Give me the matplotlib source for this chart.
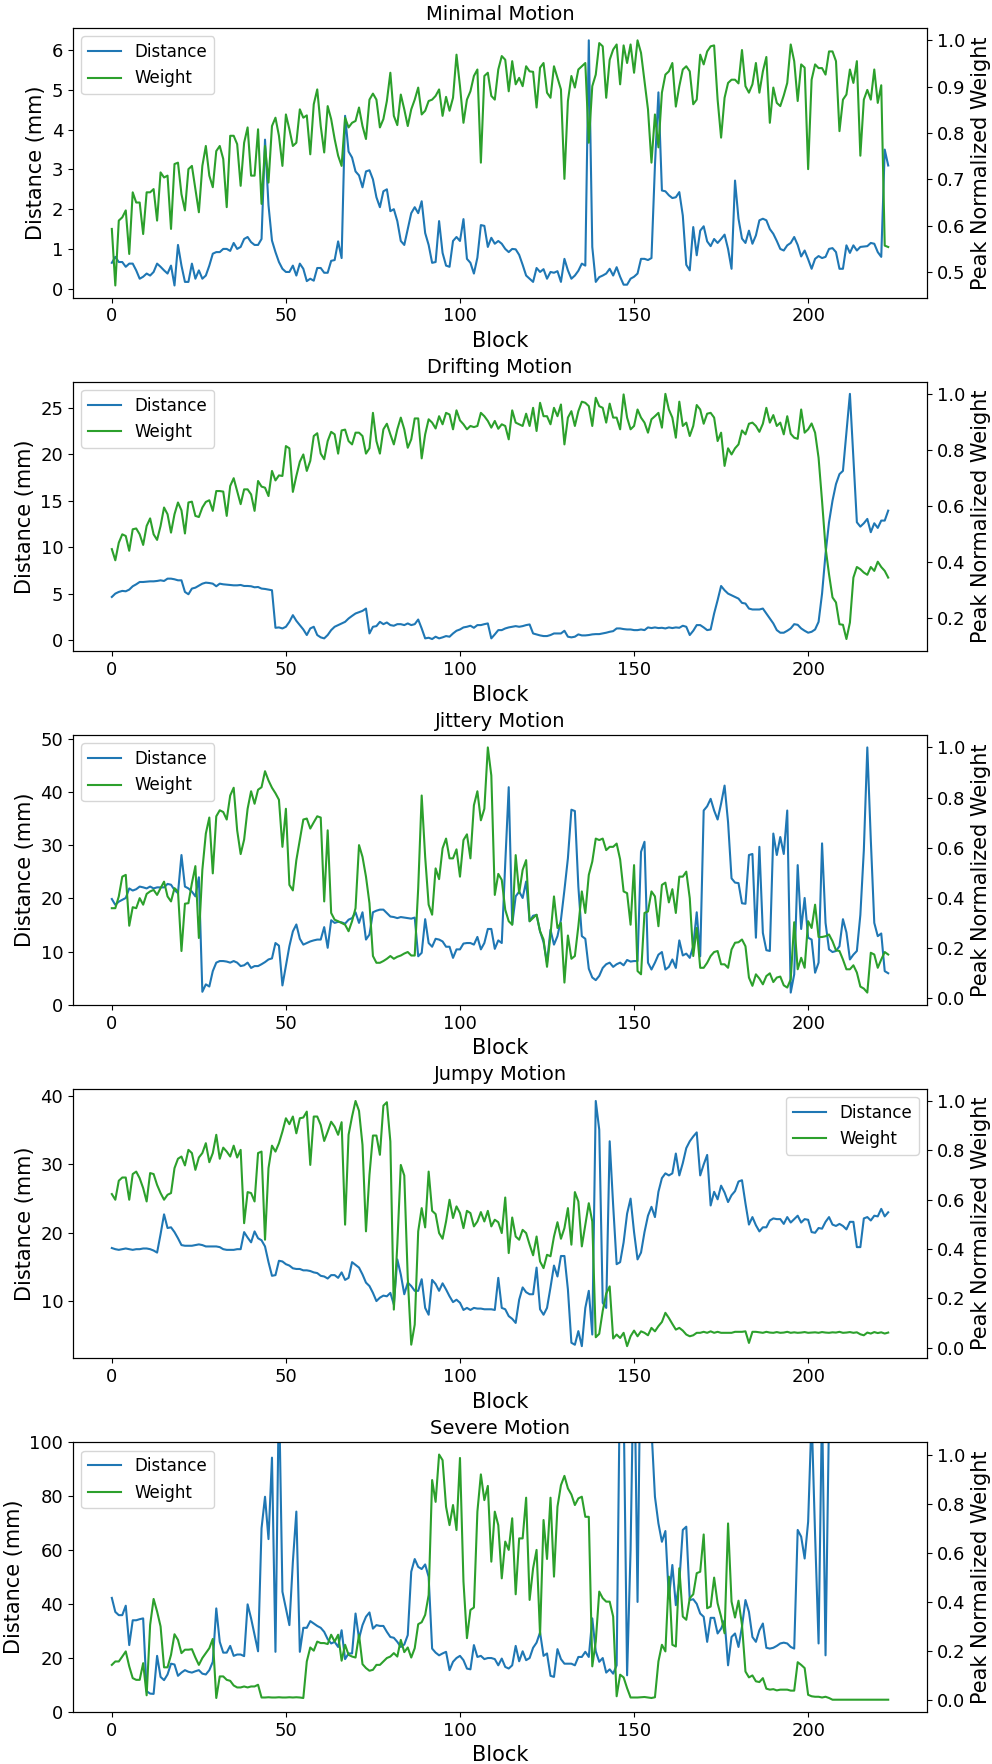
import matplotlib
matplotlib.use("Agg")
import matplotlib.pyplot as plt
import numpy as np

titles = ["Minimal Motion", "Drifting Motion", "Jittery Motion", "Jumpy Motion", "Severe Motion"]
legend_locs = ["upper left", "upper left", "upper left", "upper right", "upper left"]

# ---------------- Minimal Motion ----------------
dist_minimal = [
    0.65, 0.8, 0.67, 0.67, 0.55, 0.63, 0.63, 0.46, 0.25, 0.3,
    0.38, 0.33, 0.42, 0.63, 0.55, 0.46, 0.38, 0.58, 0.08, 1.1,
    0.58, 0.17, 0.17, 0.63, 0.25, 0.46, 0.25, 0.33, 0.58, 0.88,
    0.92, 0.92, 1.0, 1.0, 0.95, 1.15, 1.0, 1.05, 1.25, 1.3,
    1.17, 1.1, 1.1, 1.25, 3.75, 2.1, 1.21, 0.92, 0.67, 0.5,
    0.42, 0.42, 0.58, 0.33, 0.63, 0.5, 0.19, 0.25, 0.2, 0.52,
    0.52, 0.4, 0.4, 0.7, 0.72, 1.19, 0.77, 4.35, 3.45, 3.3,
    2.95, 2.85, 2.55, 2.95, 2.98, 2.75, 2.3, 2.05, 2.45, 2.5,
    1.95, 2.0, 1.7, 1.2, 1.1, 1.5, 1.9, 2.05, 1.9, 2.2,
    1.4, 1.1, 0.65, 0.67, 1.7, 0.9, 0.58, 0.55, 1.2, 1.3,
    1.2, 1.75, 0.75, 0.65, 0.38, 0.78, 1.6, 1.58, 1.05, 1.28,
    1.13, 1.2, 1.13, 1.0, 0.92, 1.0, 0.99, 0.85, 0.6, 0.33,
    0.25, 0.17, 0.52, 0.42, 0.49, 0.25, 0.42, 0.4, 0.44, 0.17,
    0.75, 0.46, 0.25, 0.33, 0.45, 0.63, 0.58, 6.25, 1.05, 0.17,
    0.29, 0.33, 0.38, 0.5, 0.33, 0.54, 0.3, 0.1, 0.1, 0.25,
    0.3, 0.38, 0.75, 0.75, 0.72, 0.77, 3.1, 4.94, 2.47, 2.45,
    2.35, 2.28, 2.3, 2.43, 1.84, 0.6, 0.46, 1.55, 0.84, 1.46,
    1.57, 1.19, 1.07, 1.25, 1.15, 1.25, 1.36, 1.0, 0.5, 2.72,
    1.76, 1.26, 1.15, 1.46, 1.13, 1.34, 1.72, 1.76, 1.72, 1.5,
    1.38, 1.2, 1.0, 0.96, 1.09, 1.15, 1.3, 1.1, 0.81, 0.96,
    0.74, 0.5, 0.75, 0.82, 0.77, 0.8, 1.0, 1.02, 0.92, 0.5,
    0.5, 1.09, 0.9, 1.09, 0.96, 1.05, 1.06, 1.07, 1.15, 1.13,
    0.92, 0.8, 3.5, 3.1,
]
weight_minimal = [
    0.593, 0.471, 0.611, 0.618, 0.633, 0.539, 0.672, 0.650, 0.650, 0.582,
    0.672, 0.672, 0.679, 0.611, 0.715, 0.704, 0.708, 0.593, 0.733, 0.736,
    0.668, 0.633, 0.722, 0.729, 0.679, 0.629, 0.729, 0.772, 0.708, 0.683,
    0.761, 0.772, 0.744, 0.640, 0.794, 0.794, 0.776, 0.686, 0.779, 0.812,
    0.708, 0.708, 0.808, 0.647, 0.772, 0.693, 0.815, 0.833, 0.794, 0.729,
    0.840, 0.808, 0.772, 0.779, 0.851, 0.833, 0.838, 0.754, 0.862, 0.894,
    0.815, 0.758, 0.858, 0.830, 0.787, 0.751, 0.729, 0.833, 0.812, 0.822,
    0.826, 0.855, 0.815, 0.787, 0.872, 0.885, 0.872, 0.812, 0.830, 0.869,
    0.930, 0.837, 0.817, 0.883, 0.851, 0.815, 0.851, 0.872, 0.898, 0.840,
    0.848, 0.869, 0.872, 0.880, 0.894, 0.837, 0.878, 0.848, 0.876, 0.969,
    0.901, 0.822, 0.872, 0.890, 0.923, 0.937, 0.736, 0.923, 0.930, 0.880,
    0.872, 0.937, 0.966, 0.958, 0.890, 0.955, 0.905, 0.919, 0.901, 0.944,
    0.933, 0.932, 0.855, 0.941, 0.951, 0.887, 0.876, 0.944, 0.919, 0.894,
    0.701, 0.869, 0.923, 0.898, 0.937, 0.944, 0.951, 0.779, 0.901, 0.926,
    0.994, 0.987, 0.876, 0.958, 0.980, 0.991, 0.905, 0.989, 0.951, 0.991,
    0.930, 1.0, 0.973, 0.912, 0.851, 0.736, 0.840, 0.769, 0.887, 0.926,
    0.933, 0.951, 0.857, 0.901, 0.937, 0.944, 0.933, 0.862, 0.872, 0.969,
    0.948, 0.976, 0.987, 0.989, 0.872, 0.790, 0.876, 0.908, 0.915, 0.915,
    0.907, 0.979, 0.901, 0.887, 0.905, 0.951, 0.887, 0.933, 0.964, 0.822,
    0.898, 0.865, 0.858, 0.881, 0.908, 0.991, 0.955, 0.869, 0.948, 0.941,
    0.722, 0.915, 0.948, 0.940, 0.940, 0.926, 0.976, 0.976, 0.955, 0.804,
    0.872, 0.883, 0.937, 0.908, 0.955, 0.751, 0.872, 0.893, 0.872, 0.937,
    0.865, 0.903, 0.557, 0.554,
]

# ---------------- Drifting Motion ----------------
dist_drifting = [
    4.64, 5.0, 5.18, 5.29, 5.25, 5.43, 5.79, 6.0, 6.25, 6.25,
    6.29, 6.32, 6.32, 6.36, 6.43, 6.36, 6.61, 6.61, 6.54, 6.43,
    6.43, 5.18, 4.93, 5.54, 5.64, 5.86, 6.07, 6.18, 6.14, 6.07,
    5.79, 6.07, 6.0, 5.96, 5.93, 5.89, 5.89, 5.93, 5.82, 5.82,
    5.79, 5.68, 5.71, 5.54, 5.5, 5.43, 5.36, 1.32, 1.36, 1.25,
    1.43, 1.96, 2.68, 2.07, 1.61, 1.14, 0.54, 1.25, 1.43, 0.54,
    0.29, 0.18, 0.54, 1.07, 1.43, 1.61, 1.79, 1.96, 2.32, 2.6,
    2.86, 3.0, 3.14, 3.39, 0.71, 1.43, 1.5, 1.96, 1.71, 1.89,
    1.61, 1.54, 1.71, 1.71, 1.61, 1.79, 1.61, 1.71, 2.21, 1.25,
    0.18, 0.25, 0.11, 0.36, 0.18, 0.29, 0.43, 0.36, 0.71, 1.0,
    1.14, 1.36, 1.43, 1.54, 1.32, 1.61, 1.61, 1.71, 1.79, 0.18,
    0.61, 1.07, 1.07, 1.25, 1.36, 1.43, 1.5, 1.43, 1.5, 1.61,
    1.68, 0.71, 0.61, 0.5, 0.43, 0.43, 0.54, 0.71, 0.71, 0.71,
    1.0, 0.36, 0.29, 0.36, 0.61, 0.5, 0.5, 0.54, 0.61, 0.64,
    0.64, 0.71, 0.79, 0.89, 0.96, 1.25, 1.25, 1.18, 1.14, 1.14,
    1.07, 1.07, 1.14, 1.07, 1.36, 1.29, 1.36, 1.29, 1.32, 1.25,
    1.36, 1.29, 1.36, 1.32, 1.54, 1.43, 0.54, 1.0, 1.61, 1.61,
    1.36, 1.07, 1.14, 2.86, 4.29, 5.82, 5.36, 5.0, 4.82, 4.64,
    4.46, 4.0, 3.93, 3.39, 3.29, 3.29, 3.29, 3.39, 2.86, 2.32,
    1.79, 1.07, 0.79, 0.79, 1.0, 1.25, 1.71, 1.64, 1.25, 1.0,
    0.79, 0.89, 1.14, 1.96, 5.0, 9.29, 12.68, 15.0, 16.79, 17.86,
    18.21, 22.32, 26.5, 19.64, 12.68, 12.21, 12.57, 13.04, 11.61, 12.57,
    12.07, 12.86, 12.86, 13.93,
]
weight_drifting = [
    0.446, 0.406, 0.469, 0.499, 0.493, 0.440, 0.517, 0.520, 0.499, 0.461,
    0.529, 0.556, 0.499, 0.479, 0.529, 0.595, 0.571, 0.505, 0.571, 0.613,
    0.585, 0.502, 0.613, 0.616, 0.565, 0.561, 0.595, 0.615, 0.621, 0.583,
    0.654, 0.654, 0.652, 0.565, 0.672, 0.700, 0.654, 0.607, 0.660, 0.660,
    0.642, 0.583, 0.690, 0.670, 0.666, 0.636, 0.726, 0.692, 0.710, 0.708,
    0.815, 0.807, 0.651, 0.708, 0.759, 0.785, 0.726, 0.762, 0.851, 0.861,
    0.788, 0.768, 0.833, 0.866, 0.857, 0.788, 0.871, 0.874, 0.833, 0.821,
    0.863, 0.863, 0.851, 0.788, 0.807, 0.934, 0.833, 0.788, 0.875, 0.895,
    0.857, 0.821, 0.875, 0.917, 0.875, 0.809, 0.839, 0.914, 0.914, 0.771,
    0.857, 0.911, 0.899, 0.878, 0.922, 0.893, 0.934, 0.928, 0.875, 0.943,
    0.907, 0.893, 0.875, 0.887, 0.883, 0.887, 0.934, 0.922, 0.905, 0.881,
    0.905, 0.877, 0.893, 0.887, 0.839, 0.943, 0.899, 0.893, 0.887, 0.931,
    0.887, 0.952, 0.869, 0.970, 0.922, 0.922, 0.893, 0.952, 0.922, 0.964,
    0.821, 0.917, 0.940, 0.887, 0.940, 0.974, 0.970, 0.958, 0.887, 0.988,
    0.958, 0.952, 0.899, 0.967, 0.917, 0.917, 0.875, 1.0, 0.917, 0.875,
    0.887, 0.946, 0.917, 0.899, 0.863, 0.911, 0.922, 0.934, 0.881, 1.002,
    0.946, 0.917, 0.845, 0.974, 0.887, 0.899, 0.851, 0.887, 0.962, 0.946,
    0.895, 0.931, 0.934, 0.917, 0.833, 0.863, 0.744, 0.807, 0.785, 0.807,
    0.821, 0.871, 0.857, 0.895, 0.899, 0.887, 0.866, 0.895, 0.952, 0.899,
    0.926, 0.887, 0.899, 0.857, 0.922, 0.859, 0.845, 0.841, 0.946, 0.863,
    0.875, 0.896, 0.863, 0.773, 0.618, 0.452, 0.356, 0.273, 0.255, 0.177,
    0.175, 0.124, 0.183, 0.344, 0.382, 0.374, 0.362, 0.354, 0.382, 0.368,
    0.401, 0.382, 0.368, 0.344,
]

# ---------------- Jittery Motion ----------------
dist_jittery = [
    19.9, 18.8, 19.4, 19.75, 20.1, 21.9, 21.5, 21.75, 22.25, 22.1,
    21.9, 22.25, 21.9, 22.1, 22.1, 22.1, 22.75, 22.6, 21.6, 21.0,
    28.2, 22.25, 21.9, 21.3, 20.4, 24.0, 2.4, 3.8, 3.4, 6.3,
    7.9, 8.2, 8.2, 8.1, 7.9, 8.2, 7.9, 7.25, 7.4, 7.9,
    6.9, 7.25, 7.25, 7.6, 8.0, 8.5, 8.7, 11.6, 11.1, 3.6,
    7.25, 11.0, 13.8, 15.1, 12.4, 11.3, 11.6, 11.9, 12.1, 12.25,
    12.25, 14.6, 10.7, 15.9, 15.4, 15.6, 15.5, 15.25, 16.0, 16.3,
    17.4, 15.4, 17.4, 12.25, 13.2, 17.4, 17.7, 17.9, 17.9, 17.25,
    16.6, 16.5, 16.3, 16.5, 16.4, 16.3, 16.2, 16.4, 9.1, 9.75,
    16.1, 11.6, 10.9, 12.4, 12.25, 11.9, 10.9, 10.9, 8.8, 10.4,
    10.4, 11.5, 11.6, 11.6, 11.3, 12.75, 10.4, 11.6, 14.25, 14.25,
    10.5, 12.1, 11.6, 26.6, 41.0, 15.1, 20.4, 21.3, 20.1, 23.2,
    15.7, 16.75, 16.9, 13.8, 11.75, 7.9, 14.1, 11.3, 12.9, 16.0,
    21.6, 27.6, 36.75, 36.5, 22.25, 12.9, 12.4, 6.75, 5.1, 4.6,
    5.4, 6.9, 7.6, 7.9, 7.1, 7.6, 7.9, 7.4, 8.4, 8.1,
    8.2, 8.2, 28.8, 30.7, 7.9, 6.6, 7.9, 9.4, 9.9, 6.6,
    7.1, 8.5, 6.9, 12.1, 9.25, 9.6, 8.8, 11.0, 17.4, 9.1,
    36.6, 37.4, 38.8, 36.6, 34.9, 37.9, 41.3, 34.4, 23.8, 23.0,
    22.9, 19.1, 19.0, 28.2, 28.4, 12.6, 29.75, 13.5, 10.25, 10.1,
    32.25, 28.2, 31.6, 28.4, 36.6, 2.25, 5.7, 26.3, 14.25, 20.1,
    12.6, 12.25, 6.0, 7.9, 30.4, 15.4, 10.4, 9.9, 10.1, 11.0,
    16.1, 13.6, 8.5, 9.4, 10.1, 16.9, 29.1, 48.5, 31.1, 15.4,
    12.9, 13.4, 6.3, 5.9,
]
weight_jittery = [
    0.358, 0.358, 0.405, 0.484, 0.491, 0.288, 0.362, 0.358, 0.398, 0.372,
    0.415, 0.425, 0.431, 0.411, 0.438, 0.464, 0.405, 0.385, 0.438, 0.425,
    0.187, 0.376, 0.378, 0.458, 0.526, 0.239, 0.511, 0.656, 0.720, 0.497,
    0.725, 0.749, 0.742, 0.712, 0.808, 0.839, 0.669, 0.574, 0.632, 0.755,
    0.825, 0.775, 0.831, 0.841, 0.905, 0.868, 0.839, 0.817, 0.791, 0.603,
    0.755, 0.451, 0.429, 0.550, 0.630, 0.712, 0.716, 0.676, 0.701, 0.725,
    0.720, 0.385, 0.669, 0.339, 0.312, 0.306, 0.299, 0.292, 0.266, 0.306,
    0.358, 0.610, 0.563, 0.484, 0.378, 0.167, 0.140, 0.140, 0.147, 0.156,
    0.167, 0.156, 0.164, 0.169, 0.177, 0.183, 0.169, 0.169, 0.438, 0.808,
    0.563, 0.372, 0.332, 0.517, 0.474, 0.597, 0.636, 0.557, 0.557, 0.593,
    0.484, 0.630, 0.653, 0.557, 0.769, 0.825, 0.709, 0.755, 1.0, 0.888,
    0.411, 0.495, 0.471, 0.352, 0.306, 0.292, 0.570, 0.418, 0.511, 0.550,
    0.306, 0.319, 0.332, 0.266, 0.233, 0.124, 0.253, 0.405, 0.279, 0.299,
    0.061, 0.249, 0.156, 0.167, 0.286, 0.425, 0.339, 0.491, 0.544, 0.636,
    0.630, 0.636, 0.590, 0.603, 0.603, 0.616, 0.553, 0.425, 0.418, 0.292,
    0.530, 0.107, 0.094, 0.339, 0.345, 0.425, 0.405, 0.286, 0.451, 0.460,
    0.381, 0.434, 0.339, 0.484, 0.484, 0.504, 0.398, 0.167, 0.279, 0.120,
    0.120, 0.140, 0.167, 0.183, 0.187, 0.134, 0.134, 0.120, 0.193, 0.220,
    0.222, 0.233, 0.206, 0.081, 0.048, 0.094, 0.077, 0.054, 0.087, 0.098,
    0.063, 0.081, 0.085, 0.050, 0.041, 0.074, 0.302, 0.114, 0.160, 0.120,
    0.306, 0.279, 0.372, 0.243, 0.243, 0.246, 0.253, 0.226, 0.190, 0.187,
    0.153, 0.114, 0.114, 0.130, 0.101, 0.045, 0.037, 0.021, 0.180, 0.173,
    0.120, 0.153, 0.183, 0.173,
]

# ---------------- Jumpy Motion ----------------
dist_jumpy = [
    17.77, 17.6, 17.5, 17.6, 17.7, 17.6, 17.5, 17.6, 17.6, 17.7,
    17.7, 17.6, 17.4, 17.1, 19.8, 22.7, 20.7, 20.8, 20.1, 19.2,
    18.2, 18.1, 18.1, 18.1, 18.2, 18.3, 18.2, 18.0, 18.0, 18.0,
    18.0, 17.9, 17.6, 17.5, 17.5, 17.5, 17.6, 17.6, 20.1, 19.3,
    18.6, 20.2, 19.2, 18.9, 18.0, 15.7, 13.7, 13.8, 15.9, 15.8,
    15.4, 15.2, 14.8, 14.7, 14.7, 14.5, 14.5, 14.4, 14.2, 14.1,
    13.7, 13.6, 13.3, 13.8, 13.8, 13.4, 14.2, 13.1, 13.4, 15.7,
    15.3, 14.9, 13.9, 12.7, 12.2, 11.2, 10.0, 10.5, 10.8, 10.7,
    11.2, 9.5, 16.1, 13.9, 11.0, 12.7, 12.2, 11.5, 11.5, 13.2,
    9.0, 8.0, 13.1, 12.5, 11.5, 12.6, 11.7, 10.7, 9.85, 10.2,
    9.75, 8.7, 9.0, 8.7, 9.0, 8.9, 8.9, 8.8, 8.8, 8.8,
    8.7, 13.4, 9.0, 8.8, 7.8, 7.4, 6.8, 10.2, 12.0, 11.3,
    11.0, 11.0, 14.9, 8.8, 8.0, 9.0, 12.0, 15.2, 13.6, 16.6,
    16.6, 11.7, 3.9, 3.6, 5.6, 3.4, 9.0, 11.5, 5.1, 39.3,
    35.1, 9.75, 9.0, 33.4, 24.0, 15.4, 15.7, 18.6, 22.8, 25.0,
    20.1, 16.1, 17.1, 20.1, 22.5, 23.8, 22.3, 26.0, 28.0, 28.7,
    28.4, 28.7, 31.6, 28.4, 30.2, 32.4, 33.4, 34.1, 34.7, 28.4,
    30.0, 31.4, 24.0, 26.0, 24.9, 26.9, 25.9, 24.5, 25.5, 26.1,
    27.5, 27.7, 24.3, 21.2, 22.3, 21.1, 20.2, 20.8, 20.8, 21.8,
    22.1, 22.0, 22.0, 21.3, 22.3, 21.5, 22.0, 22.5, 21.5, 22.0,
    21.9, 20.1, 20.0, 20.7, 20.6, 21.6, 22.3, 21.2, 21.0, 21.3,
    21.0, 20.5, 21.6, 21.6, 17.9, 17.9, 22.1, 22.3, 21.8, 22.5,
    22.4, 23.5, 22.4, 23.0,
]
weight_jumpy = [
    0.623, 0.600, 0.677, 0.690, 0.690, 0.600, 0.704, 0.714, 0.687, 0.647,
    0.593, 0.708, 0.704, 0.660, 0.627, 0.600, 0.620, 0.627, 0.728, 0.766,
    0.775, 0.739, 0.802, 0.789, 0.721, 0.771, 0.789, 0.829, 0.752, 0.789,
    0.863, 0.766, 0.811, 0.795, 0.775, 0.819, 0.771, 0.802, 0.505, 0.631,
    0.627, 0.593, 0.789, 0.795, 0.438, 0.728, 0.819, 0.795, 0.829, 0.876,
    0.930, 0.906, 0.937, 0.869, 0.930, 0.933, 0.957, 0.741, 0.937, 0.937,
    0.903, 0.838, 0.876, 0.916, 0.896, 0.863, 0.914, 0.499, 0.863, 0.937,
    1.0, 0.960, 0.822, 0.472, 0.701, 0.860, 0.860, 0.782, 0.981, 0.995,
    0.836, 0.155, 0.418, 0.741, 0.698, 0.283, 0.013, 0.094, 0.472, 0.566,
    0.488, 0.714, 0.555, 0.542, 0.465, 0.442, 0.512, 0.600, 0.526, 0.573,
    0.546, 0.485, 0.555, 0.546, 0.492, 0.512, 0.550, 0.512, 0.555, 0.492,
    0.519, 0.509, 0.465, 0.609, 0.384, 0.528, 0.451, 0.438, 0.478, 0.465,
    0.418, 0.375, 0.451, 0.350, 0.323, 0.377, 0.371, 0.451, 0.509, 0.442,
    0.485, 0.566, 0.418, 0.631, 0.593, 0.411, 0.499, 0.586, 0.512, 0.043,
    0.057, 0.150, 0.220, 0.249, 0.038, 0.054, 0.040, 0.061, 0.007, 0.047,
    0.070, 0.047, 0.067, 0.061, 0.051, 0.081, 0.067, 0.088, 0.105, 0.142,
    0.121, 0.097, 0.074, 0.081, 0.070, 0.054, 0.047, 0.051, 0.061, 0.061,
    0.065, 0.061, 0.067, 0.061, 0.065, 0.061, 0.061, 0.061, 0.061, 0.065,
    0.065, 0.065, 0.067, 0.020, 0.065, 0.065, 0.063, 0.061, 0.065, 0.062,
    0.061, 0.064, 0.061, 0.062, 0.065, 0.061, 0.063, 0.061, 0.062, 0.064,
    0.061, 0.062, 0.063, 0.061, 0.064, 0.062, 0.061, 0.063, 0.062, 0.065,
    0.061, 0.062, 0.064, 0.061, 0.063, 0.055, 0.051, 0.062, 0.058, 0.064,
    0.060, 0.063, 0.058, 0.062,
]

# ---------------- Severe Motion ----------------
dist_severe = [
    42.3, 37.1, 35.9, 35.9, 39.4, 24.8, 34.0, 34.0, 34.4, 34.7,
    7.7, 6.8, 6.7, 20.8, 13.0, 11.8, 13.9, 17.9, 17.6, 13.4,
    14.6, 15.5, 14.9, 14.6, 15.1, 15.5, 14.2, 13.9, 15.5, 18.6,
    38.4, 26.0, 22.0, 22.0, 24.5, 20.8, 21.3, 21.3, 20.7, 39.9,
    34.7, 28.5, 22.5, 68.1, 79.8, 64.1, 94.3, 22.3, 120.0, 44.6,
    38.4, 32.2, 55.7, 74.3, 22.3, 31.2, 31.2, 33.7, 32.8, 31.9,
    31.2, 29.7, 27.0, 25.4, 26.0, 24.1, 30.3, 19.6, 21.7, 21.7,
    36.5, 27.2, 32.2, 35.3, 36.9, 30.9, 32.2, 31.9, 31.9, 29.7,
    27.8, 27.5, 26.0, 24.1, 25.0, 28.5, 52.0, 56.7, 53.8, 53.0,
    54.7, 50.1, 23.5, 22.0, 21.0, 21.7, 22.3, 15.5, 18.6, 20.0,
    20.8, 19.2, 16.1, 15.8, 24.8, 20.4, 20.8, 19.6, 20.0, 20.0,
    19.6, 17.3, 19.8, 16.7, 16.1, 17.3, 24.5, 18.8, 22.5, 19.2,
    20.0, 23.8, 25.7, 29.5, 20.8, 21.7, 13.4, 13.0, 23.3, 19.6,
    17.9, 17.9, 17.9, 17.3, 20.4, 20.4, 22.3, 20.4, 34.7, 22.5,
    18.6, 20.0, 14.6, 15.8, 14.2, 17.3, 130.0, 115.0, 13.6, 60.0,
    140.0, 40.8, 150.0, 130.0, 120.0, 105.0, 79.8, 69.9, 63.1, 67.1,
    42.1, 54.5, 39.6, 48.3, 67.5, 68.7, 41.5, 41.8, 40.1, 36.5,
    35.3, 26.0, 34.9, 34.9, 29.1, 30.9, 34.0, 17.3, 27.8, 29.1,
    24.1, 31.6, 41.5, 37.1, 27.8, 26.0, 30.3, 32.8, 23.8, 23.5,
    23.8, 24.5, 25.4, 25.7, 25.4, 24.1, 23.5, 67.5, 65.0, 56.9,
    70.5, 110.0, 65.6, 25.4, 115.0, 21.0, 110.0, 130.0, 150.0, 160.0,
    170.0, 180.0, 165.0, 175.0, 185.0, 170.0, 160.0, 175.0, 180.0, 190.0,
    185.0, 175.0, 180.0, 170.0,
]
weight_severe = [
    0.142, 0.156, 0.156, 0.176, 0.197, 0.136, 0.088, 0.081, 0.081, 0.149,
    0.018, 0.305, 0.411, 0.360, 0.299, 0.132, 0.132, 0.183, 0.267, 0.244,
    0.190, 0.204, 0.204, 0.206, 0.172, 0.142, 0.170, 0.190, 0.210, 0.248,
    0.007, 0.095, 0.095, 0.081, 0.077, 0.058, 0.050, 0.050, 0.054, 0.050,
    0.054, 0.054, 0.061, 0.009, 0.009, 0.010, 0.009, 0.009, 0.010, 0.009,
    0.009, 0.010, 0.009, 0.010, 0.009, 0.007, 0.156, 0.213, 0.200, 0.237,
    0.231, 0.231, 0.227, 0.265, 0.237, 0.265, 0.159, 0.224, 0.183, 0.176,
    0.172, 0.265, 0.145, 0.129, 0.118, 0.122, 0.142, 0.142, 0.156, 0.170,
    0.176, 0.190, 0.176, 0.244, 0.194, 0.213, 0.172, 0.210, 0.308, 0.316,
    0.346, 0.427, 0.896, 0.807, 1.0, 0.977, 0.787, 0.712, 0.794, 0.692,
    0.986, 0.482, 0.251, 0.366, 0.376, 0.767, 0.919, 0.814, 0.872, 0.563,
    0.767, 0.712, 0.495, 0.645, 0.611, 0.740, 0.430, 0.658, 0.658, 0.824,
    0.407, 0.536, 0.611, 0.265, 0.733, 0.574, 0.824, 0.502, 0.787, 0.875,
    0.913, 0.862, 0.837, 0.794, 0.821, 0.828, 0.746, 0.746, 0.136, 0.237,
    0.441, 0.414, 0.400, 0.400, 0.339, 0.014, 0.102, 0.091, 0.047, 0.009,
    0.009, 0.009, 0.010, 0.011, 0.009, 0.007, 0.010, 0.156, 0.224, 0.197,
    0.502, 0.224, 0.217, 0.536, 0.339, 0.326, 0.414, 0.430, 0.516, 0.522,
    0.674, 0.373, 0.380, 0.498, 0.393, 0.339, 0.271, 0.719, 0.400, 0.335,
    0.404, 0.305, 0.115, 0.091, 0.099, 0.075, 0.072, 0.088, 0.045, 0.041,
    0.043, 0.038, 0.041, 0.041, 0.041, 0.037, 0.037, 0.153, 0.142, 0.129,
    0.020, 0.014, 0.012, 0.012, 0.009, 0.012, 0.007, 0.0, 0.0, 0.0,
    0.0, 0.0, 0.0, 0.0, 0.0, 0.0, 0.0, 0.0, 0.0, 0.0,
    0.0, 0.0, 0.0, 0.0,
]

distances = [dist_minimal, dist_drifting, dist_jittery, dist_jumpy, dist_severe]
weights = [weight_minimal, weight_drifting, weight_jittery, weight_jumpy, weight_severe]
distance_ylims = [None, None, None, None, (0, 100)]

fig, axes = plt.subplots(5, 1, figsize=(9.92, 17.64), dpi=100)
fig.subplots_adjust(left=0.0736, right=0.9345, top=0.9841, bottom=0.0295, hspace=0.311)

for ax, title, d, w, loc, ylim in zip(axes, titles, distances, weights, legend_locs, distance_ylims):
    blocks_d = np.arange(len(d))
    blocks_w = np.arange(len(w))
    l1, = ax.plot(blocks_d, d, color='tab:blue', lw=1.5, label='Distance')
    ax2 = ax.twinx()
    l2, = ax2.plot(blocks_w, w, color='tab:green', lw=1.5, label='Weight')
    if ylim is not None:
        ax.set_ylim(*ylim)
    ax.set_title(title, fontsize=14)
    ax.set_xlabel('Block', fontsize=15)
    ax.set_ylabel('Distance (mm)', fontsize=15)
    ax2.set_ylabel('Peak Normalized Weight', fontsize=15)
    ax.tick_params(labelsize=13)
    ax2.tick_params(labelsize=13)
    ax2.legend([l1, l2], ['Distance', 'Weight'], loc=loc, fontsize=12)

fig.savefig('out.png', dpi=100)
